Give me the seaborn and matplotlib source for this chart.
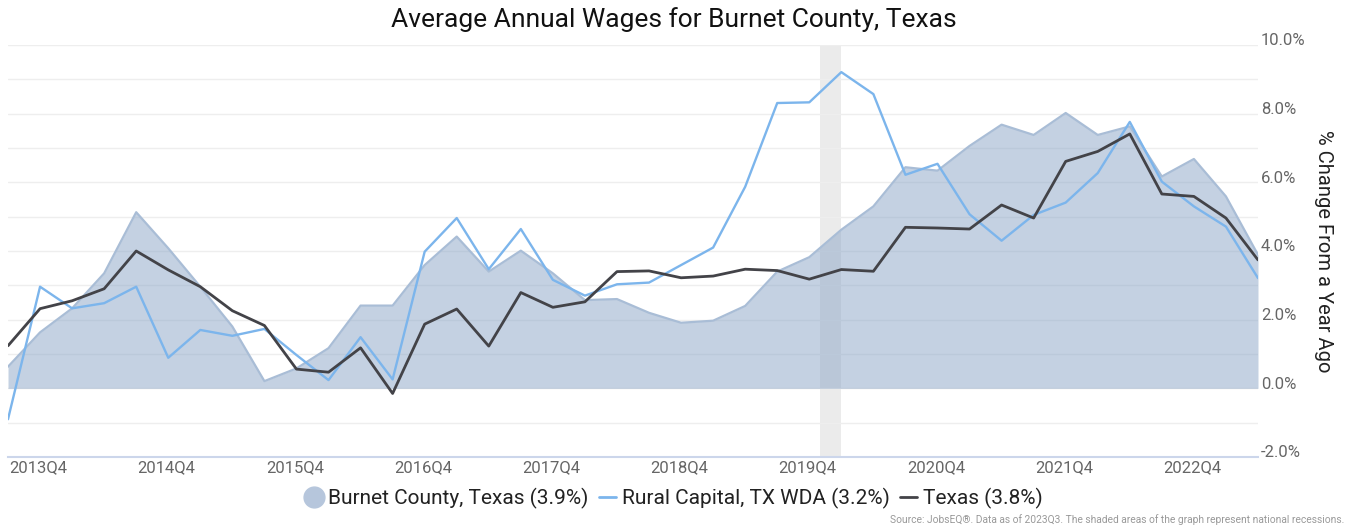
import matplotlib
matplotlib.use("Agg")
import matplotlib.pyplot as plt
import matplotlib.transforms as mtransforms
from matplotlib.lines import Line2D
import seaborn as sns
import pandas as pd
import numpy as np

# quarters 2013Q4 .. 2023Q3
quarters = [f"{y}Q{q}" for y in range(2013, 2024) for q in range(1, 5)][3:43]

burnet = [0.63, 1.63, 2.33, 3.35, 5.13, 4.08, 2.96, 1.80, 0.21, 0.58,
          1.17, 2.41, 2.41, 3.59, 4.42, 3.40, 4.01, 3.35, 2.57, 2.60,
          2.20, 1.91, 1.97, 2.40, 3.40, 3.82, 4.62, 5.30, 6.44, 6.34,
          7.06, 7.68, 7.38, 8.02, 7.38, 7.63, 6.17, 6.68, 5.59, 3.89]
rural = [-0.90, 2.96, 2.33, 2.48, 2.96, 0.89, 1.70, 1.53, 1.73, 0.97,
         0.24, 1.49, 0.26, 3.98, 4.96, 3.47, 4.64, 3.16, 2.70, 3.03,
         3.08, 3.59, 4.10, 5.87, 8.31, 8.33, 9.21, 8.57, 6.22, 6.54,
         5.07, 4.30, 5.05, 5.41, 6.27, 7.76, 6.02, 5.30, 4.71, 3.21]
texas = [1.24, 2.32, 2.55, 2.90, 4.00, 3.45, 2.96, 2.26, 1.83, 0.56,
         0.47, 1.18, -0.15, 1.87, 2.31, 1.23, 2.79, 2.36, 2.52, 3.40,
         3.42, 3.22, 3.27, 3.47, 3.43, 3.18, 3.46, 3.41, 4.69, 4.67,
         4.64, 5.34, 4.96, 6.61, 6.90, 7.41, 5.66, 5.59, 4.96, 3.74]

recession = (25.33, 26.0)  # 2020Q1 (partial) - 2020Q2

df = pd.DataFrame({"idx": np.arange(len(quarters)), "quarter": quarters,
                   "burnet": burnet, "rural": rural, "texas": texas})

sns.set_style("white")
plt.rcParams['font.family'] = ['Roboto', 'DejaVu Sans']

fig = plt.figure(figsize=(13.48, 5.29), dpi=100)
ax = fig.add_axes([8 / 1348, 72 / 529, (1258 - 8) / 1348, (457 - 45) / 529])

ax.axvspan(*recession, color='#ebebeb', lw=0, zorder=0)
ax.fill_between(df["idx"], 0, df["burnet"], color='#8aa5c7', alpha=0.5, lw=0, zorder=1)
ax.plot(df["idx"], df["burnet"], color='#a9bdd6', lw=1.6, zorder=1.5)
sns.lineplot(data=df, x="idx", y="rural", color='#7cb5ec', lw=1.7, ax=ax, zorder=3)
sns.lineplot(data=df, x="idx", y="texas", color='#434348', lw=2.0, ax=ax, zorder=4)

ax.set_xlim(0, 39)
ax.set_ylim(-2, 10)
ax.set_yticks(np.arange(-2, 11, 1), minor=True)
ax.set_yticks(np.arange(-2, 11, 2))
ax.set_yticklabels([f"{v:.1f}%" for v in np.arange(-2, 11, 2)])
ax.yaxis.tick_right()
ax.grid(axis='y', which='both', color='#eeeeee', lw=1)
ax.set_axisbelow(True)
ax.tick_params(axis='y', which='both', length=0, pad=2, labelsize=12, labelcolor='#666666')
for lab in ax.get_yticklabels():
    lab.set_transform(lab.get_transform() + mtransforms.ScaledTranslation(0, 4 / 72, fig.dpi_scale_trans))

xt = list(range(0, 40, 4))
ax.set_xticks(xt)
ax.set_xticklabels([quarters[i] for i in xt], ha='left')
ax.tick_params(axis='x', length=10, width=1, color='#ccd6eb', pad=-8, labelsize=12, labelcolor='#666666')
for lab in ax.get_xticklabels():
    lab.set_transform(lab.get_transform() + mtransforms.ScaledTranslation(1 / 72, 0, fig.dpi_scale_trans))

for s in ['top', 'right', 'left']:
    ax.spines[s].set_visible(False)
ax.spines['bottom'].set_color('#ccd6eb')
ax.spines['bottom'].set_linewidth(1.5)
ax.set_xlabel("")
ax.set_ylabel("% Change From a Year Ago", fontsize=14.5, color='#222222', rotation=270, labelpad=20)
ax.yaxis.set_label_position('right')

fig.text(0.5, 1 - 20 / 529, "Average Annual Wages for Burnet County, Texas",
         ha='center', va='center', fontsize=19, color='#111111')

handles = [
    Line2D([], [], marker='o', ls='', markersize=15, markerfacecolor='#b6c6dc', markeredgecolor='#b6c6dc'),
    Line2D([], [], color='#7cb5ec', lw=2),
    Line2D([], [], color='#434348', lw=2),
]
labels = ["Burnet County, Texas (3.9%)", "Rural Capital, TX WDA (3.2%)", "Texas (3.8%)"]
fig.legend(handles, labels, loc='center', bbox_to_anchor=(0.5, 1 - 498 / 529), ncol=3,
           frameon=False, fontsize=15, handlelength=0.8, handletextpad=0.3,
           columnspacing=0.5, labelcolor='#222222')

fig.text(1344 / 1348, 1 - 520 / 529,
         "Source: JobsEQ®. Data as of 2023Q3. The shaded areas of the graph represent national recessions.",
         ha='right', va='center', fontsize=7.4, color='#999999')

fig.savefig("out.png", dpi=100)
